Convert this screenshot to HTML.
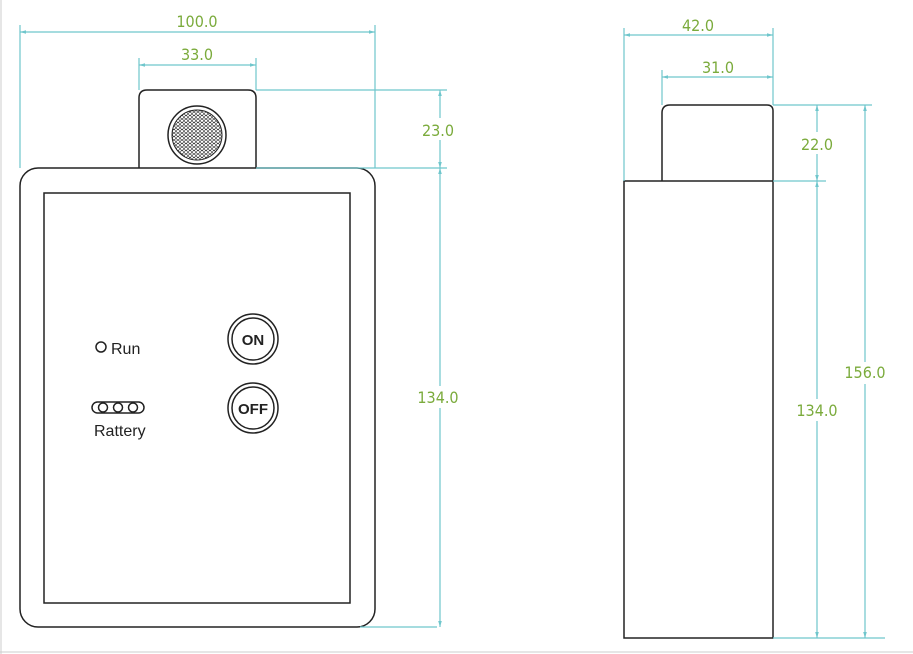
<!DOCTYPE html>
<html><head><style>
html,body{margin:0;padding:0;background:#fff;}
svg{display:block}
.d{font-family:"DejaVu Sans Condensed","Liberation Sans",sans-serif;font-size:16px;fill:#7bab3c;text-anchor:middle}
.c{stroke:#6fc6cc;stroke-width:1.2;fill:none}
.k{stroke:#222;stroke-width:1.5;fill:none}
</style></head><body>
<svg width="913" height="654" viewBox="0 0 913 654">
<defs>
<marker id="a" viewBox="0 0 10 10" refX="10" refY="5" markerWidth="7" markerHeight="5" orient="auto-start-reverse"><path d="M0,2 L10,5 L0,8z" fill="#6fc6cc"/></marker>
<pattern id="m" width="4" height="3.5" patternUnits="userSpaceOnUse"><circle cx="2" cy="1.75" r="1.5" fill="none" stroke="#222" stroke-width="0.6"/></pattern>
</defs>
<line x1="1" y1="0" x2="1" y2="654" stroke="#ccc"/>
<line x1="0" y1="652" x2="913" y2="652" stroke="#ccc"/>

<!-- left view -->
<path class="k" d="M139,168 V98 Q139,90 147,90 H248 Q256,90 256,98 V168"/>
<circle cx="197" cy="135" r="29" class="k" stroke-width="1.2"/>
<circle cx="197" cy="135" r="25" fill="url(#m)" stroke="#222" stroke-width="1"/>
<rect x="20" y="168" width="355" height="459" rx="18" class="k"/>
<rect x="44" y="193" width="306" height="410" class="k" stroke-width="1.3"/>
<circle cx="101" cy="347" r="5" class="k" stroke-width="1.2"/>
<text x="111" y="354" font-family="Liberation Sans,sans-serif" font-size="16" fill="#222">Run</text>
<rect x="92" y="402" width="52" height="11" rx="5.5" class="k" stroke-width="1.1"/>
<circle cx="103" cy="407.5" r="4.5" class="k" stroke-width="1"/>
<circle cx="118" cy="407.5" r="4.5" class="k" stroke-width="1"/>
<circle cx="133" cy="407.5" r="4.5" class="k" stroke-width="1"/>
<text x="94" y="436" font-family="Liberation Sans,sans-serif" font-size="16" fill="#222">Rattery</text>
<circle cx="253" cy="339" r="25" class="k" stroke-width="1.2"/>
<circle cx="253" cy="339" r="21" class="k" stroke-width="1.2"/>
<text x="253" y="345" text-anchor="middle" font-family="Liberation Sans Narrow,Liberation Sans,sans-serif" font-weight="bold" font-size="15" fill="#222">ON</text>
<circle cx="253" cy="408" r="25" class="k" stroke-width="1.2"/>
<circle cx="253" cy="408" r="21" class="k" stroke-width="1.2"/>
<text x="253" y="414" text-anchor="middle" font-family="Liberation Sans Narrow,Liberation Sans,sans-serif" font-weight="bold" font-size="15" fill="#222">OFF</text>

<line class="c" x1="20" y1="25" x2="20" y2="168"/>
<line class="c" x1="375" y1="25" x2="375" y2="168"/>
<line class="c" x1="20" y1="32" x2="375" y2="32" marker-start="url(#a)" marker-end="url(#a)"/>
<text class="d" x="197" y="27">100.0</text>
<line class="c" x1="139" y1="58" x2="139" y2="90"/>
<line class="c" x1="256" y1="58" x2="256" y2="90"/>
<line class="c" x1="139" y1="65" x2="256" y2="65" marker-start="url(#a)" marker-end="url(#a)"/>
<text class="d" x="197" y="60">33.0</text>
<line class="c" x1="256" y1="90" x2="447" y2="90"/>
<line class="c" x1="256" y1="168" x2="447" y2="168"/>
<line class="c" x1="360" y1="627" x2="437" y2="627"/>
<line class="c" x1="440" y1="90" x2="440" y2="168" marker-start="url(#a)" marker-end="url(#a)"/>
<line class="c" x1="440" y1="168" x2="440" y2="627" marker-start="url(#a)" marker-end="url(#a)"/>
<rect x="415" y="118" width="50" height="22" fill="#fff"/>
<text class="d" x="438" y="136">23.0</text>
<rect x="410" y="386" width="56" height="22" fill="#fff"/>
<text class="d" x="438" y="403">134.0</text>

<!-- right view -->
<path class="k" d="M662,181 V113 Q662,105 670,105 H767 Q773,105 773,111 V181"/>
<rect x="624" y="181" width="149" height="457" class="k"/>
<line class="c" x1="624" y1="28" x2="624" y2="181"/>
<line class="c" x1="773" y1="28" x2="773" y2="105"/>
<line class="c" x1="624" y1="35" x2="773" y2="35" marker-start="url(#a)" marker-end="url(#a)"/>
<text class="d" x="698" y="31">42.0</text>
<line class="c" x1="662" y1="70" x2="662" y2="105"/>
<line class="c" x1="662" y1="77" x2="773" y2="77" marker-start="url(#a)" marker-end="url(#a)"/>
<text class="d" x="718" y="73">31.0</text>
<line class="c" x1="773" y1="105" x2="872" y2="105"/>
<line class="c" x1="773" y1="181" x2="826" y2="181"/>
<line class="c" x1="773" y1="638" x2="885" y2="638"/>
<line class="c" x1="817" y1="105" x2="817" y2="181" marker-start="url(#a)" marker-end="url(#a)"/>
<line class="c" x1="817" y1="181" x2="817" y2="638" marker-start="url(#a)" marker-end="url(#a)"/>
<line class="c" x1="865" y1="105" x2="865" y2="638" marker-start="url(#a)" marker-end="url(#a)"/>
<rect x="795" y="132" width="44" height="22" fill="#fff"/>
<text class="d" x="817" y="150">22.0</text>
<rect x="790" y="399" width="54" height="22" fill="#fff"/>
<text class="d" x="817" y="416">134.0</text>
<rect x="838" y="362" width="54" height="22" fill="#fff"/>
<text class="d" x="865" y="378">156.0</text>
</svg>
</body></html>
